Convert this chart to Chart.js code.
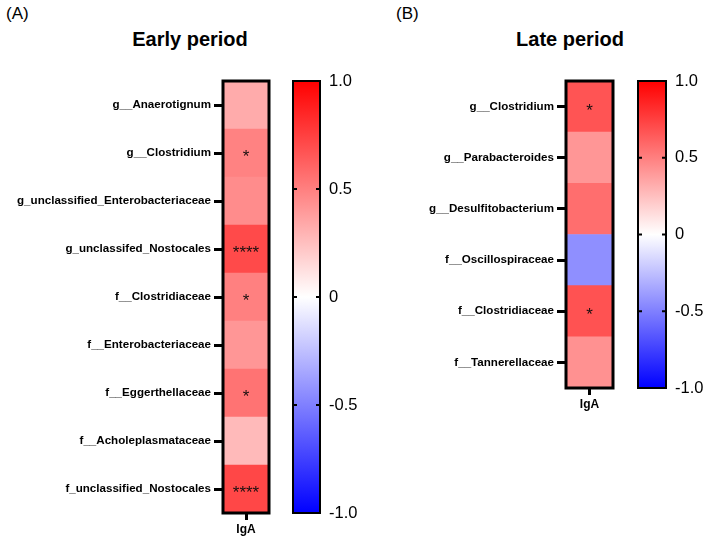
<!DOCTYPE html>
<html>
<head>
<meta charset="utf-8">
<script src="https://cdn.jsdelivr.net/npm/chart.js@4.4.1/dist/chart.umd.min.js"></script>
<style>
body { margin: 0; background: #fff; font-family: "Liberation Sans", Arial, sans-serif; }
#fig { position: relative; width: 708px; height: 540px; overflow: hidden; }
canvas { position: absolute; }
.panel { position: absolute; font-size: 17px; line-height: 1; color: #000; }
.title { position: absolute; font-size: 20px; font-weight: bold; line-height: 1; color: #000; transform: translateX(-50%); white-space: nowrap; }
</style>
</head>
<body>
<div id="fig">
  <div class="panel" style="left:6px;top:5px">(A)</div>
  <div class="title" style="left:190px;top:29px">Early period</div>
  <div class="panel" style="left:396px;top:5px">(B)</div>
  <div class="title" style="left:570px;top:29px">Late period</div>
  <canvas id="earlyMap" width="280" height="470" style="left:0;top:70px"></canvas>
  <canvas id="earlyBar" width="80" height="470" style="left:285px;top:70px"></canvas>
  <canvas id="lateMap" width="240" height="350" style="left:380px;top:70px"></canvas>
  <canvas id="lateBar" width="78" height="350" style="left:630px;top:70px"></canvas>
</div>
<script>
// correlation with IgA
const columns = ['IgA'];

const earlyTaxa = ['g__Anaerotignum', 'g__Clostridium', 'g_unclassified_Enterobacteriaceae',
  'g_unclassifed_Nostocales', 'f__Clostridiaceae', 'f__Enterobacteriaceae',
  'f__Eggerthellaceae', 'f__Acholeplasmataceae', 'f_unclassified_Nostocales'];
const earlyR = [0.33, 0.49, 0.45, 0.71, 0.5, 0.41, 0.55, 0.27, 0.72];
const earlySig = ['', '*', '', '****', '*', '', '*', '', '****'];

const lateTaxa = ['g__Clostridium', 'g__Parabacteroides', 'g__Desulfitobacterium',
  'f__Oscillospiraceae', 'f__Clostridiaceae', 'f__Tannerellaceae'];
const lateR = [0.67, 0.41, 0.57, -0.44, 0.68, 0.43];
const lateSig = ['*', '', '', '', '*', ''];

const scaleTicks = [-1, -0.5, 0, 0.5, 1];
const scaleLabels = ['-1.0', '-0.5', '0', '0.5', '1.0'];

const FONT = '"Liberation Sans", Arial, sans-serif';

function colorFor(v) {
  // blue -> white -> red
  if (v >= 0) {
    const c = Math.round(255 * (1 - v));
    return `rgb(255,${c},${c})`;
  }
  const c = Math.round(255 * (1 + v));
  return `rgb(${c},${c},255)`;
}

const cellText = {
  id: 'cellText',
  afterDatasetsDraw(chart, args, opts) {
    const ctx = chart.ctx, a = chart.chartArea;
    const y = chart.scales.y, x = chart.scales.x;
    ctx.save();
    ctx.fillStyle = '#1a1010';
    ctx.font = '17px ' + FONT;
    ctx.textAlign = 'center';
    ctx.textBaseline = 'alphabetic';
    opts.sig.forEach((s, i) => {
      // asterisk sits high in the em box, push baseline down so it looks centred
      if (s) ctx.fillText(s, x.getPixelForValue(0.5), y.getPixelForValue(i) + 9);
    });
    ctx.lineWidth = 3;
    ctx.strokeStyle = '#000';
    ctx.strokeRect(a.left, a.top, a.right - a.left, a.bottom - a.top);
    ctx.restore();
  }
};

function heatmap(id, taxa, r, sig, yWidth, pad) {
  new Chart(document.getElementById(id), {
    type: 'bar',
    data: {
      labels: taxa,
      datasets: [{
        data: taxa.map(() => [0, 1]),
        backgroundColor: r.map(colorFor),
        borderWidth: 0,
        barPercentage: 1,
        categoryPercentage: 1
      }]
    },
    options: {
      responsive: false,
      animation: false,
      indexAxis: 'y',
      layout: { padding: pad },
      plugins: { legend: { display: false }, tooltip: { enabled: false }, cellText: { sig: sig } },
      scales: {
        x: {
          min: 0, max: 1,
          afterBuildTicks: s => { s.ticks = [{ value: 0.5 }]; },
          afterFit: s => { s.height = 25; },
          ticks: { callback: (v, i) => columns[i], color: '#000', padding: 2, font: { family: FONT, size: 12, weight: 'bold' } },
          grid: { drawOnChartArea: false, tickLength: 7, tickWidth: 3, color: '#000' },
          border: { display: false }
        },
        y: {
          afterFit: s => { s.width = yWidth; },
          ticks: { color: '#000', padding: 3, font: { family: FONT, size: 11.6, weight: 'bold' } },
          grid: { drawOnChartArea: false, offset: false, tickLength: 9, tickWidth: 3, color: '#000' },
          border: { display: false }
        }
      }
    },
    plugins: [cellText]
  });
}

const barFrame = {
  id: 'barFrame',
  afterDatasetsDraw(chart) {
    const ctx = chart.ctx, a = chart.chartArea, y = chart.scales.y;
    ctx.save();
    ctx.strokeStyle = '#000';
    ctx.lineWidth = 2;
    ctx.strokeRect(a.left, a.top, a.right - a.left, a.bottom - a.top);
    scaleTicks.slice(1, -1).forEach(v => {
      const py = y.getPixelForValue(v);
      ctx.beginPath();
      ctx.moveTo(a.left - 1, py); ctx.lineTo(a.left + 4, py);
      ctx.moveTo(a.right - 4, py); ctx.lineTo(a.right + 1, py);
      ctx.stroke();
    });
    ctx.restore();
  }
};

function colorScale(id, yWidth, pad) {
  new Chart(document.getElementById(id), {
    type: 'bar',
    data: {
      labels: [''],
      datasets: [{
        data: [[scaleTicks[0], scaleTicks[scaleTicks.length - 1]]],
        backgroundColor: ctx => {
          const a = ctx.chart.chartArea;
          if (!a) return null;
          const g = ctx.chart.ctx.createLinearGradient(0, a.bottom, 0, a.top);
          g.addColorStop(0, colorFor(-1));
          g.addColorStop(0.5, colorFor(0));
          g.addColorStop(1, colorFor(1));
          return g;
        },
        borderWidth: 0,
        barPercentage: 1,
        categoryPercentage: 1
      }]
    },
    options: {
      responsive: false,
      animation: false,
      layout: { padding: pad },
      plugins: { legend: { display: false }, tooltip: { enabled: false } },
      scales: {
        x: { display: false },
        y: {
          position: 'right',
          min: -1, max: 1,
          afterBuildTicks: s => { s.ticks = scaleTicks.map(v => ({ value: v })); },
          afterFit: s => { s.width = yWidth; s.paddingTop = 0; s.paddingBottom = 0; },
          ticks: { callback: (v, i) => scaleLabels[i], color: '#000', padding: 9, font: { family: FONT, size: 16.5 } },
          grid: { display: false, drawTicks: false, tickLength: 0 },
          border: { display: false }
        }
      }
    },
    plugins: [barFrame]
  });
}

heatmap('earlyMap', earlyTaxa, earlyR, earlySig, 223, { left: 0, right: 11, top: 11, bottom: 2 });
colorScale('earlyBar', 45, { left: 8, right: 0, top: 11, bottom: 27 });
heatmap('lateMap', lateTaxa, lateR, lateSig, 186, { left: 0, right: 7, top: 11, bottom: 7 });
colorScale('lateBar', 42, { left: 8, right: 0, top: 11, bottom: 32 });
</script>
</body>
</html>
